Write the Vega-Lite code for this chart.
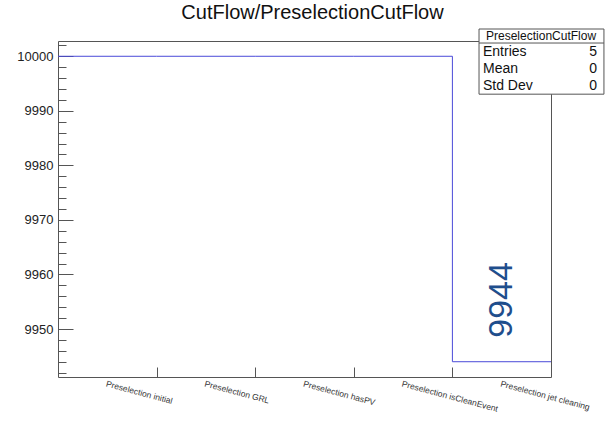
{
  "$schema": "https://vega.github.io/schema/vega-lite/v6.json",
  "width": 493,
  "height": 336,
  "autosize": "none",
  "padding": {"left": 58, "top": 41, "right": 55, "bottom": 44},
  "background": "white",
  "config": {
    "font": "Liberation Sans",
    "view": {"stroke": "#555555", "strokeWidth": 1},
    "axis": {"grid": false, "domain": false, "title": null}
  },
  "title": {
    "text": "CutFlow/PreselectionCutFlow",
    "font": "Liberation Sans",
    "fontSize": 20,
    "fontWeight": "normal",
    "color": "#111111",
    "anchor": "middle",
    "frame": "group",
    "baseline": "alphabetic",
    "offset": -10,
    "dx": 8
  },
  "data": {
    "values": [
      {"bin": "Preselection initial", "start": 0, "end": 1, "count": 10000},
      {"bin": "Preselection GRL", "start": 1, "end": 2, "count": 10000},
      {"bin": "Preselection hasPV", "start": 2, "end": 3, "count": 10000},
      {"bin": "Preselection isCleanEvent", "start": 3, "end": 4, "count": 10000},
      {"bin": "Preselection jet cleaning", "start": 4, "end": 5, "count": 9944}
    ]
  },
  "resolve": {
    "scale": {"x": "independent"},
    "axis": {"x": "independent", "y": "independent"}
  },
  "layer": [
    {
      "transform": [{"fold": ["start", "end"], "as": ["edge", "pos"]}],
      "mark": {"type": "line", "color": "#4a4ad8", "strokeWidth": 1, "clip": true},
      "encoding": {
        "x": {
          "field": "pos", "type": "quantitative",
          "scale": {"domain": [0, 5], "nice": false, "zero": false},
          "axis": {"orient": "bottom", "values": [1, 2, 3, 4], "labels": false, "tickSize": -10, "tickColor": "#555555", "domain": false, "title": null}
        },
        "y": {
          "field": "count", "type": "quantitative",
          "scale": {"domain": [9941.2, 10002.8], "nice": false, "zero": false},
          "axis": {"orient": "left", "values": [9950, 9960, 9970, 9980, 9990, 10000], "ticks": false, "labelPadding": 5, "labelFontSize": 13, "labelColor": "#222222", "format": "d", "domain": false, "title": null}
        },
        "order": [{"field": "pos", "type": "quantitative"}, {"field": "start", "type": "quantitative"}]
      }
    },
    {
      "transform": [{"filter": "datum.count < 10000"}],
      "mark": {"type": "text", "angle": 270, "align": "left", "baseline": "middle", "dx": 24, "fontSize": 34, "color": "#1f4e8c", "clip": true},
      "encoding": {
        "x": {
          "field": "bin", "type": "nominal", "sort": null,
          "scale": {"type": "band", "paddingInner": 0, "paddingOuter": 0, "domain": ["Preselection initial", "Preselection GRL", "Preselection hasPV", "Preselection isCleanEvent", "Preselection jet cleaning"]},
          "axis": {"orient": "bottom", "ticks": false, "labelAngle": 15, "labelAlign": "left", "labelBaseline": "top", "labelPadding": 2, "labelFontSize": 8.5, "labelColor": "#333333", "labelOverlap": false, "domain": false, "title": null}
        },
        "y": {
          "field": "count", "type": "quantitative",
          "scale": {"domain": [9941.2, 10002.8], "nice": false, "zero": false},
          "axis": {"orient": "left", "values": [9950, 9960, 9970, 9980, 9990, 10000], "labels": false, "tickSize": -15, "tickColor": "#555555", "domain": false, "title": null}
        },
        "text": {"field": "count", "type": "quantitative", "format": "d"}
      }
    },
    {
      "data": {"values": [{"name": "PreselectionCutFlow", "entries": 5, "mean": 0, "stddev": 0}]},
      "mark": {"type": "rect", "fill": "white", "stroke": "#555555", "strokeWidth": 1, "clip": false},
      "encoding": {
        "x": {"datum": 4.27, "type": "quantitative", "scale": {"domain": [0, 5], "nice": false, "zero": false}, "axis": null},
        "x2": {"datum": 5.537},
        "y": {
          "datum": 10005.0, "type": "quantitative",
          "scale": {"domain": [9941.2, 10002.8], "nice": false, "zero": false},
          "axis": {"orient": "left", "values": [9942, 9944, 9946, 9948, 9950, 9952, 9954, 9956, 9958, 9960, 9962, 9964, 9966, 9968, 9970, 9972, 9974, 9976, 9978, 9980, 9982, 9984, 9986, 9988, 9990, 9992, 9994, 9996, 9998, 10000, 10002], "labels": false, "tickSize": -8, "tickColor": "#555555", "domain": false, "title": null}
        },
        "y2": {"datum": 9993.05}
      }
    },
    {
      "data": {"values": [{"name": "PreselectionCutFlow", "entries": 5, "mean": 0, "stddev": 0}]},
      "layer": [
        {
          "mark": {"type": "rule", "color": "#555555", "strokeWidth": 1, "clip": false},
          "encoding": {
            "x": {"datum": 4.27, "type": "quantitative", "scale": {"domain": [0, 5], "nice": false, "zero": false}, "axis": null},
            "x2": {"datum": 5.537},
            "y": {"datum": 10002.43, "type": "quantitative", "axis": null}
          }
        },
        {
          "mark": {"type": "text", "align": "center", "baseline": "middle", "fontSize": 12, "color": "#111111", "clip": false},
          "encoding": {
            "x": {"datum": 4.899, "type": "quantitative", "scale": {"domain": [0, 5], "nice": false, "zero": false}, "axis": null},
            "y": {"datum": 10003.72, "type": "quantitative", "axis": null},
            "text": {"field": "name", "type": "nominal"}
          }
        },
        {
          "mark": {"type": "text", "align": "left", "baseline": "middle", "fontSize": 14, "lineHeight": 17, "color": "#111111", "clip": false},
          "encoding": {
            "x": {"datum": 4.31, "type": "quantitative", "scale": {"domain": [0, 5], "nice": false, "zero": false}, "axis": null},
            "y": {"datum": 10000.78, "type": "quantitative", "axis": null},
            "text": {"value": ["Entries", "Mean", "Std Dev"]}
          }
        },
        {
          "mark": {"type": "text", "align": "right", "baseline": "middle", "fontSize": 14, "color": "#111111", "clip": false},
          "encoding": {
            "x": {"datum": 5.467, "type": "quantitative", "scale": {"domain": [0, 5], "nice": false, "zero": false}, "axis": null},
            "y": {"datum": 10000.78, "type": "quantitative", "axis": null},
            "text": {"field": "entries", "type": "quantitative", "format": "d"}
          }
        },
        {
          "mark": {"type": "text", "align": "right", "baseline": "middle", "fontSize": 14, "color": "#111111", "clip": false},
          "encoding": {
            "x": {"datum": 5.467, "type": "quantitative", "scale": {"domain": [0, 5], "nice": false, "zero": false}, "axis": null},
            "y": {"datum": 9997.65, "type": "quantitative", "axis": null},
            "text": {"field": "mean", "type": "quantitative", "format": "d"}
          }
        },
        {
          "mark": {"type": "text", "align": "right", "baseline": "middle", "fontSize": 14, "color": "#111111", "clip": false},
          "encoding": {
            "x": {"datum": 5.467, "type": "quantitative", "scale": {"domain": [0, 5], "nice": false, "zero": false}, "axis": null},
            "y": {"datum": 9994.53, "type": "quantitative", "axis": null},
            "text": {"field": "stddev", "type": "quantitative", "format": "d"}
          }
        }
      ]
    }
  ]
}
